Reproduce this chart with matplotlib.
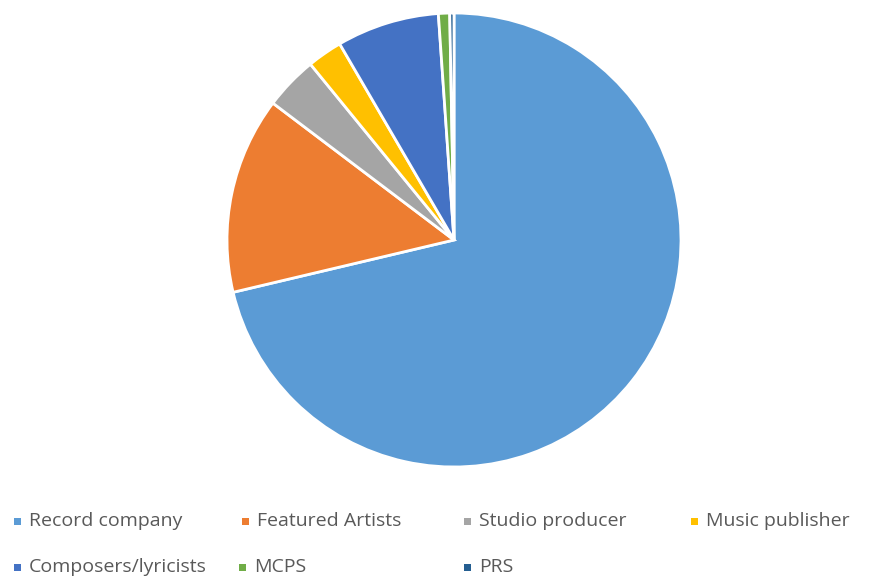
import matplotlib.pyplot as plt
from matplotlib.patches import Rectangle

labels = ["Record company", "Featured Artists", "Studio producer", "Music publisher",
          "Composers/lyricists", "MCPS", "PRS"]
shares = [71.3, 14.0, 3.8, 2.5, 7.3, 0.8, 0.3]
colors = ["#5B9BD5", "#ED7D31", "#A5A5A5", "#FFC000", "#4472C4", "#70AD47", "#255E91"]

# legend entry positions in pixels (marker centre x, row y from top)
legend_pos = [(17, 521), (245, 521), (467, 521), (694, 521),
              (17, 567), (242, 567), (467, 567)]

W, H = 872, 579
fig = plt.figure(figsize=(W / 100, H / 100), dpi=100)

cx, cy, r = 454, 240, 227
ax = fig.add_axes([(cx - r) / W, (H - cy - r) / H, 2 * r / W, 2 * r / H])
ax.pie(shares, colors=colors, startangle=90, counterclock=False, radius=1,
       wedgeprops=dict(edgecolor="white", linewidth=2))
ax.set_xlim(-1, 1)
ax.set_ylim(-1, 1)
ax.set_aspect("equal")
ax.axis("off")

for label, color, (x, y) in zip(labels, colors, legend_pos):
    s = 7
    fig.patches.append(Rectangle(((x - s / 2) / W, (H - y - s / 2) / H), s / W, s / H,
                                 transform=fig.transFigure, facecolor=color,
                                 edgecolor="none"))
    fig.text((x + 12) / W, (H - y) / H, label, fontsize=14, family="Open Sans",
             color="#595959", va="center", ha="left")

fig.savefig("out.png", dpi=100)
